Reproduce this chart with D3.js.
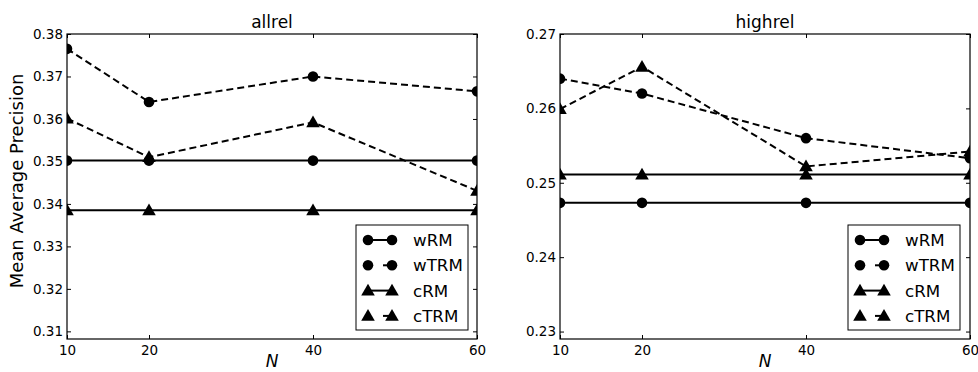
<!DOCTYPE html>
<html><head><meta charset="utf-8">
<script src="https://cdn.jsdelivr.net/npm/d3@7"></script>
<style>body{margin:0;background:#fff}svg{display:block}text{font-family:"DejaVu Sans",sans-serif;fill:#000}</style>
</head><body><svg id="c" width="978" height="372"></svg>
<script>
const N = [10, 20, 40, 60];
const seriesNames = ["wRM", "wTRM", "cRM", "cTRM"];
const allrel_wRM  = [0.3502, 0.3502, 0.3502, 0.3502];
const allrel_wTRM = [0.3765, 0.3640, 0.3700, 0.3665];
const allrel_cRM  = [0.3385, 0.3385, 0.3385, 0.3385];
const allrel_cTRM = [0.3601, 0.3510, 0.3592, 0.3431];
const highrel_wRM  = [0.2473, 0.2473, 0.2473, 0.2473];
const highrel_wTRM = [0.2640, 0.2620, 0.2560, 0.2533];
const highrel_cRM  = [0.2511, 0.2511, 0.2511, 0.2511];
const highrel_cTRM = [0.2599, 0.2656, 0.2522, 0.2542];
const allrelTicks = [0.31, 0.32, 0.33, 0.34, 0.35, 0.36, 0.37, 0.38];
const highrelTicks = [0.23, 0.24, 0.25, 0.26, 0.27];
const xTicks = [10, 20, 40, 60];

const styles = {
  wRM:  {marker: "circle", dash: null},
  wTRM: {marker: "circle", dash: "7,4"},
  cRM:  {marker: "triangle", dash: null},
  cTRM: {marker: "triangle", dash: "7,4"}
};

const svg = d3.select("#c");
const plotTop = 34, plotBottom = 339;

const circleSym = d3.symbol().type(d3.symbolCircle).size(88);
const triSym = d3.symbol().type(d3.symbolTriangle).size(80);

function marker(g, type, x, y) {
  g.append("path").attr("d", type === "circle" ? circleSym() : triSym())
    .attr("transform", `translate(${x},${y + (type === "triangle" ? 1 : 0)})`)
    .attr("fill", "#000");
}

function panel(opts) {
  const {x0, x1, title, yDomain, yTicks, data, legend} = opts;
  const x = d3.scaleLinear().domain([10, 60]).range([x0, x1]);
  const y = d3.scaleLinear().domain(yDomain).range([plotBottom, plotTop]);
  const g = svg.append("g");
  const clipId = "clip" + x0;
  svg.append("clipPath").attr("id", clipId).append("rect")
    .attr("x", x0).attr("y", plotTop).attr("width", x1 - x0).attr("height", plotBottom - plotTop);

  const plot = g.append("g").attr("clip-path", `url(#${clipId})`);
  const line = d3.line().x((d, i) => x(N[i])).y(d => y(d));
  seriesNames.forEach(name => {
    const vals = data[name];
    const st = styles[name];
    plot.append("path").attr("d", line(vals)).attr("fill", "none")
      .attr("stroke", "#000").attr("stroke-width", 2)
      .attr("stroke-dasharray", st.dash);
    vals.forEach((v, i) => marker(plot, st.marker, x(N[i]), y(v)));
  });

  g.append("rect").attr("x", x0).attr("y", plotTop).attr("width", x1 - x0).attr("height", plotBottom - plotTop)
    .attr("fill", "none").attr("stroke", "#000").attr("stroke-width", 1.2);

  const yl = d3.axisLeft(y).tickValues(yTicks).tickSize(-4).tickPadding(4).tickFormat(d3.format(".2f"));
  const yr = d3.axisRight(y).tickValues(yTicks).tickSize(-4).tickFormat("");
  const xb = d3.axisBottom(x).tickValues(xTicks).tickSize(-4).tickPadding(6).tickFormat(d3.format("d"));
  const xt = d3.axisTop(x).tickValues(xTicks).tickSize(-4).tickFormat("");
  [[yl, `translate(${x0},0)`], [yr, `translate(${x1},0)`], [xb, `translate(0,${plotBottom})`], [xt, `translate(0,${plotTop})`]]
    .forEach(([ax, tr]) => {
      const a = g.append("g").attr("transform", tr).call(ax);
      a.select(".domain").remove();
      a.selectAll("line").attr("stroke", "#000").attr("stroke-width", 1);
      a.selectAll("text").attr("font-size", 13.5).attr("font-family", "DejaVu Sans").attr("fill", "#000");
    });

  g.append("text").attr("x", (x0 + x1) / 2).attr("y", 28).attr("text-anchor", "middle")
    .attr("font-size", 17).text(title);
  g.append("text").attr("x", (x0 + x1) / 2).attr("y", 367).attr("text-anchor", "middle")
    .attr("font-size", 17).attr("font-style", "italic").attr("font-family", "Liberation Serif").text("N");

  const lg = g.append("g");
  lg.append("rect").attr("x", legend.x).attr("y", 225).attr("width", 112).attr("height", 105)
    .attr("fill", "#fff").attr("stroke", "#000").attr("stroke-width", 1);
  seriesNames.forEach((name, i) => {
    const ly = 240 + i * 25.3;
    const st = styles[name];
    const mx0 = legend.x + 12, mx1 = legend.x + 36;
    if (st.dash) {
      lg.append("line").attr("x1", mx1 - 9).attr("x2", mx1).attr("y1", ly).attr("y2", ly)
        .attr("stroke", "#000").attr("stroke-width", 2);
    } else {
      lg.append("line").attr("x1", mx0).attr("x2", mx1).attr("y1", ly).attr("y2", ly)
        .attr("stroke", "#000").attr("stroke-width", 2);
    }
    marker(lg, st.marker, mx0, ly);
    marker(lg, st.marker, mx1, ly);
    lg.append("text").attr("x", legend.x + 57).attr("y", ly + 6).attr("font-size", 16.7).text(name);
  });
}

panel({x0: 67, x1: 477, title: "allrel", yDomain: [0.3082, 0.38], yTicks: allrelTicks,
  data: {wRM: allrel_wRM, wTRM: allrel_wTRM, cRM: allrel_cRM, cTRM: allrel_cTRM}, legend: {x: 356}});
panel({x0: 560, x1: 970, title: "highrel", yDomain: [0.229, 0.27], yTicks: highrelTicks,
  data: {wRM: highrel_wRM, wTRM: highrel_wTRM, cRM: highrel_cRM, cTRM: highrel_cTRM}, legend: {x: 848}});

svg.append("text").attr("transform", "translate(23,181) rotate(-90)").attr("text-anchor", "middle")
  .attr("font-size", 18).text("Mean Average Precision");
</script></body></html>
